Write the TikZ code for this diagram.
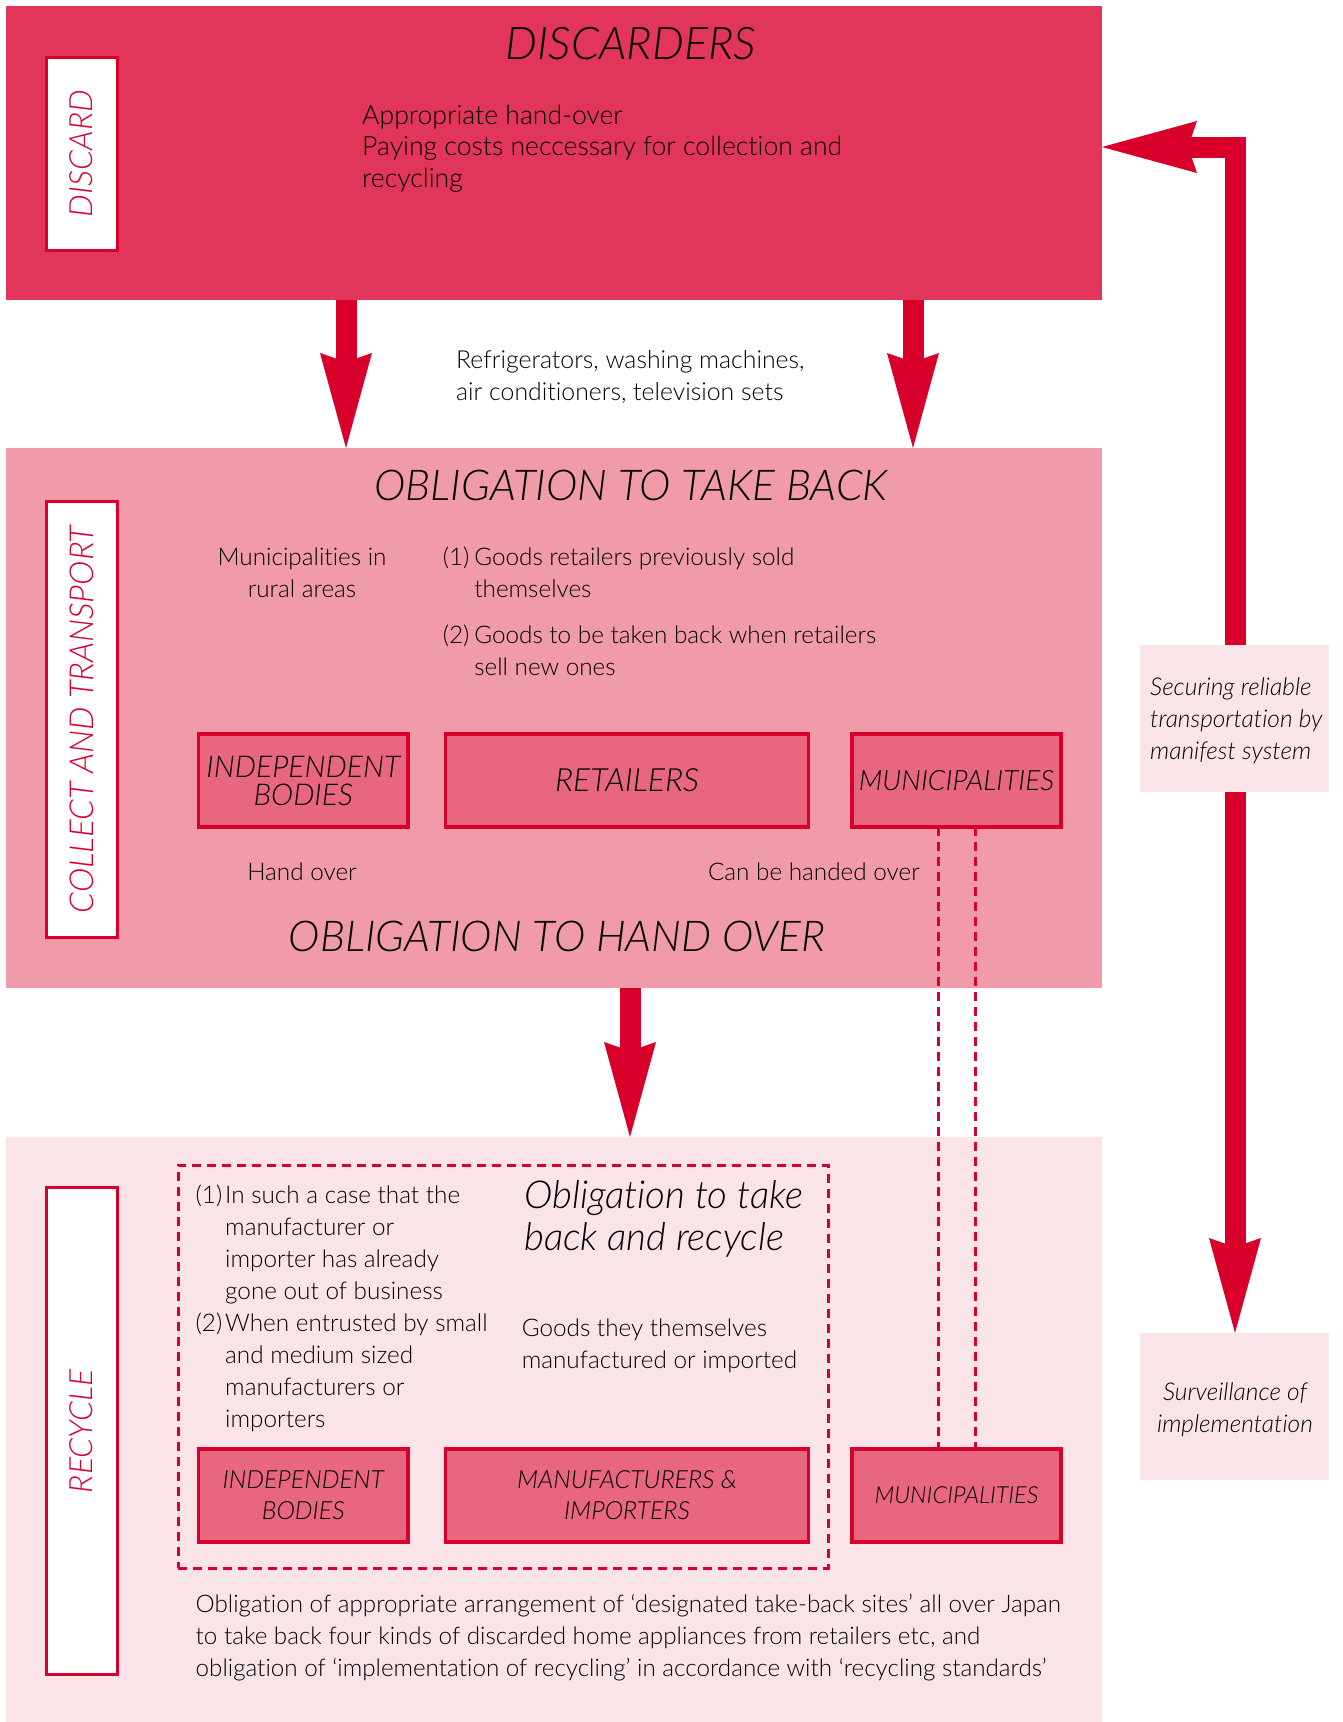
\documentclass[tikz,border=0pt]{standalone}
\usepackage{fontspec}
\setmainfont{Lato Light}[ItalicFont={Lato Light Italic}, Ligatures={NoCommon}]
\usetikzlibrary{arrows.meta}

\definecolor{mainred}{RGB}{216,0,43}
\definecolor{topfill}{RGB}{225,53,89}
\definecolor{midfill}{RGB}{240,154,170}
\definecolor{botfill}{RGB}{250,228,232}
\definecolor{actorfill}{RGB}{232,102,126}

% left-aligned and centred blocks whose baseline is the first line
\newcommand\txtlines[2]{\parbox[t]{#1}{\raggedright #2}}
\newcommand\ctrlines[2]{\parbox[t]{#1}{\centering #2}}

\tikzset{
  bighead/.tip={Stealth[length=95pt,width=52pt,inset=9pt,line width=0pt]},
  panel/.style={anchor=north west, inner sep=0pt, outer sep=0pt, draw=none},
  tagbox/.style={anchor=north west, fill=white, draw=mainred, line width=3pt,
    inner sep=0pt, outer sep=0pt, minimum width=71pt},
  tagtext/.style={rotate=90, text=mainred, inner sep=0pt,
    font=\itshape\fontsize{32}{32}\selectfont},
  actor/.style={anchor=north west, fill=actorfill, draw=mainred, line width=3.5pt,
    inner sep=0pt, outer sep=0pt, align=center, minimum height=93pt,
    font=\itshape\fontsize{30}{28}\selectfont},
  actorlow/.style={actor, font=\itshape\fontsize{25}{31}\selectfont},
  title/.style={anchor=base, inner sep=0pt, font=\itshape\fontsize{42.5}{42}\selectfont},
  body/.style={anchor=base west, inner sep=0pt, font=\fontsize{24.3}{32}\selectfont},
  sidenote/.style={body, font=\itshape\fontsize{24.5}{32}\selectfont},
  bigarrow/.style={draw=mainred, line width=21pt, line join=miter, -bighead},
  dashline/.style={draw=mainred, line width=3pt, dash pattern=on 9pt off 6pt},
}

\begin{document}
\begin{tikzpicture}[x=1pt,y=-1pt]
\useasboundingbox (0,0) rectangle (1342,1722);
\fill[white] (0,0) rectangle (1342,1722);

% the three stages
\node[panel, fill=topfill, minimum width=1096pt, minimum height=294pt] (discarders) at (6,6) {};
\node[panel, fill=midfill, minimum width=1096pt, minimum height=540pt] (collect) at (6,448) {};
\node[panel, fill=botfill, minimum width=1096pt, minimum height=585pt] (recycle) at (6,1137) {};

% stage tags on the left
\node[tagbox, minimum height=193pt] (tagA) at (46,57.2) {};
\node[tagtext] (tagAtext) at (tagA.center) {DISCARD};
\node[tagbox, minimum height=436pt] (tagB) at (46,501.5) {};
\node[tagtext, font=\itshape\fontsize{33}{33}\selectfont] (tagBtext) at (tagB.center) {COLLECT AND TRANSPORT};
\node[tagbox, minimum height=487pt] (tagC) at (46,1187.5) {};
\node[tagtext] (tagCtext) at (tagC.center) {RECYCLE};

% discard stage
\node[title, font=\itshape\fontsize{45}{45}\selectfont] (titleA) at (631,59) {DISCARDERS};
\node[body, font=\fontsize{26.6}{31.5}\selectfont] (dutyA) at (362,124)
  {\txtlines{560pt}{Appropriate hand-over\\Paying costs neccessary for collection and\\recycling}};

\node[body, font=\fontsize{24.8}{32}\selectfont] (appliances) at (456,368)
  {\txtlines{420pt}{Refrigerators, washing machines,\\air conditioners, television sets}};

% collect and transport stage
\node[title] (titleB) at (631,500) {OBLIGATION TO TAKE BACK};
\node[body, anchor=base] (rural) at (302,565) {\ctrlines{220pt}{Municipalities in\\rural areas}};
\node[body] (caseB1) at (442.6,565)
  {\txtlines{440pt}{\makebox[31.5pt][l]{(1)}Goods retailers previously sold\\\hspace*{31.5pt}themselves}};
\node[body] (caseB2) at (442.6,643)
  {\txtlines{440pt}{\makebox[31.5pt][l]{(2)}Goods to be taken back when retailers\\\hspace*{31.5pt}sell new ones}};

\node[actor, minimum width=209.5pt] (indA) at (198.5,734) {INDEPENDENT\\BODIES};
\node[actor, minimum width=363pt, font=\itshape\fontsize{32}{28}\selectfont] (retA) at (445.5,734) {RETAILERS};
\node[actor, minimum width=209pt, font=\itshape\fontsize{28}{28}\selectfont] (munA) at (852,734) {MUNICIPALITIES};

\node[body, anchor=base] (handover) at (302,880) {Hand over};
\node[body, anchor=base east] (canhand) at (920,880) {Can be handed over};
\node[title] (titleC) at (557,951) {OBLIGATION TO HAND OVER};

% recycle stage
\node[panel, draw=mainred, line width=3pt, dash pattern=on 9pt off 6pt,
  minimum width=650pt, minimum height=403pt] (group) at (178,1165) {};
\node[body] (casesC) at (195.5,1203)
  {\txtlines{300pt}{\makebox[29.5pt][l]{(1)}In such a case that the\\
   \hspace*{29.5pt}manufacturer or\\
   \hspace*{29.5pt}importer has already\\
   \hspace*{29.5pt}gone out of business\\
   \makebox[29.5pt][l]{(2)}When entrusted by small\\
   \hspace*{29.5pt}and medium sized\\
   \hspace*{29.5pt}manufacturers or\\
   \hspace*{29.5pt}importers}};
\node[body, font=\itshape\fontsize{38.5}{42}\selectfont] (dutyC) at (524,1208)
  {\txtlines{320pt}{Obligation to take\\back and recycle}};
\node[body] (own) at (521.6,1336)
  {\txtlines{320pt}{Goods they themselves\\manufactured or imported}};

\node[actorlow, minimum width=209.5pt] (indB) at (198.5,1449) {INDEPENDENT\\BODIES};
\node[actorlow, minimum width=363pt] (mfr) at (445.5,1449) {MANUFACTURERS \&\\IMPORTERS};
\node[actorlow, minimum width=209pt, font=\itshape\fontsize{23.5}{31}\selectfont] (munB) at (852,1449) {MUNICIPALITIES};

\node[body, font=\fontsize{24.2}{32}\selectfont] (sites) at (195.5,1612)
  {\txtlines{920pt}{Obligation of appropriate arrangement of ‘designated take-back sites’ all over Japan\\
   to take back four kinds of discarded home appliances from retailers etc, and\\
   obligation of ‘implementation of recycling’ in accordance with ‘recycling standards’}};

% municipalities may hand over directly
\draw[dashline] ([xshift=86pt]munA.south west) -- ([xshift=86pt]munB.north west);
\draw[dashline] ([xshift=123pt]munA.south west) -- ([xshift=123pt]munB.north west);

% flow between the stages
\draw[bigarrow] ([xshift=340pt]discarders.south west) -- ([xshift=340pt]collect.north west);
\draw[bigarrow] ([xshift=907pt]discarders.south west) -- ([xshift=907pt]collect.north west);
\draw[bigarrow] ([xshift=624pt]collect.south west) -- ([xshift=624pt]recycle.north west);

% manifest loop on the right
\node[panel, fill=botfill, minimum width=189pt, minimum height=147pt] (surveil) at (1140,1333) {};
\node[sidenote, anchor=base] (surveiltext) at (1235,1400)
  {\ctrlines{250pt}{Surveillance of\\implementation}};
\coordinate (bend) at (1235,147);
\draw[bigarrow, bighead-bighead] (bend -| discarders.east) -- (bend) -- (bend |- surveil.north);
\node[panel, fill=botfill, minimum width=189pt, minimum height=147pt] (manifest) at (1140,645) {};
\node[sidenote] (manifesttext) at (1150,695)
  {\txtlines{250pt}{Securing reliable\\transportation by\\manifest system}};
\end{tikzpicture}
\end{document}
